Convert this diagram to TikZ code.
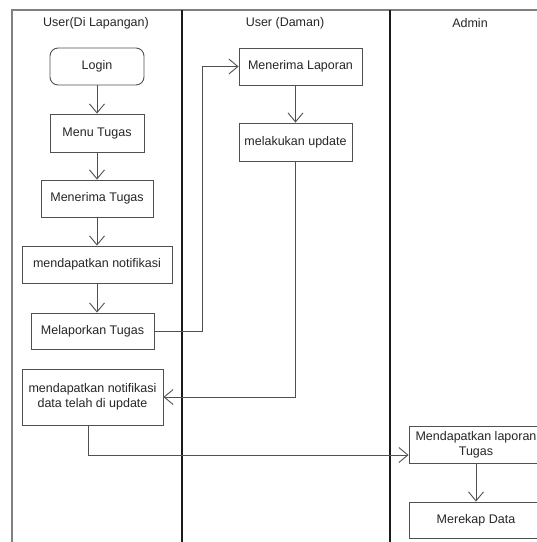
\documentclass[tikz,border=0pt]{standalone}
\usepackage{fontspec}
\setmainfont{Liberation Sans}
\usetikzlibrary{arrows.meta}
\definecolor{boxline}{HTML}{505050}
\definecolor{laneline}{HTML}{1A1A1A}
\definecolor{frameline}{HTML}{808080}
\tikzset{
  act/.style={draw=boxline, line width=0.9pt, fill=white, align=center, inner sep=0pt,
    font=\fontsize{12.5}{15}\selectfont, text=black!85},
  startact/.style={act, rounded corners=8pt},
  flow/.style={draw=boxline, line width=0.9pt, -{Straight Barb[length=9pt,width=15pt,line width=0.9pt]}},
  lanehead/.style={font=\fontsize{12.5}{15}\selectfont, text=black!85},
  lane/.style={draw=laneline, line width=1.8pt},
}
\begin{document}
\begin{tikzpicture}[x=1pt,y=-1pt]
\useasboundingbox (0,0) rectangle (537,542);
% frame
\draw[frameline, line width=1.2pt] (12,560) -- (12,10) -- (560,10);
\draw[lane] (182,10) -- (182,560);
\draw[lane] (390,10) -- (390,560);
% headers
\node[lanehead] (h1) at (96,23) {User(Di Lapangan)};
\node[lanehead] (h2) at (285,23) {User (Daman)};
\node[lanehead] (h3) at (470,23) {Admin};
% activities
\node[startact, minimum width=94pt, minimum height=37pt] (login) at (97,66.5) {Login};
\node[act, minimum width=94pt, minimum height=38pt] (menu) at (97,133) {Menu Tugas};
\node[act, minimum width=112pt, minimum height=37pt] (terimatugas) at (97,198.5) {Menerima Tugas};
\node[act, minimum width=150pt, minimum height=37pt] (notif) at (97,264.5) {mendapatkan notifikasi};
\node[act, minimum width=123pt, minimum height=36pt] (lapor) at (92.5,331) {Melaporkan Tugas};
\node[act, minimum width=141pt, minimum height=56pt] (notifu) at (92.5,397) {mendapatkan notifikasi\\data telah di update};
\node[act, minimum width=123pt, minimum height=37pt] (terimalap) at (300.5,66.5) {Menerima Laporan};
\node[act, minimum width=113pt, minimum height=38pt] (update) at (295.5,142) {melakukan update};
\node[act, minimum width=134pt, minimum height=37pt] (dapat) at (476,444.5) {Mendapatkan laporan\\Tugas};
\node[act, minimum width=134pt, minimum height=36pt] (rekap) at (476,520) {Merekap Data};
% flows
\draw[flow] (login) -- (menu);
\draw[flow] (menu) -- (terimatugas);
\draw[flow] (terimatugas) -- (notif);
\draw[flow] (notif) -- (lapor.north -| notif.south);
\draw[flow] (lapor.east) -- ++(48,0) |- (terimalap.west);
\draw[flow] (update.north |- terimalap.south) -- (update.north);
\draw[flow] (update.south) |- (notifu.east);
\draw[flow] ([xshift=-4.5pt]notifu.south) |- ([yshift=-10.5pt]dapat.west);
\draw[flow] (dapat) -- (rekap);
\end{tikzpicture}
\end{document}
